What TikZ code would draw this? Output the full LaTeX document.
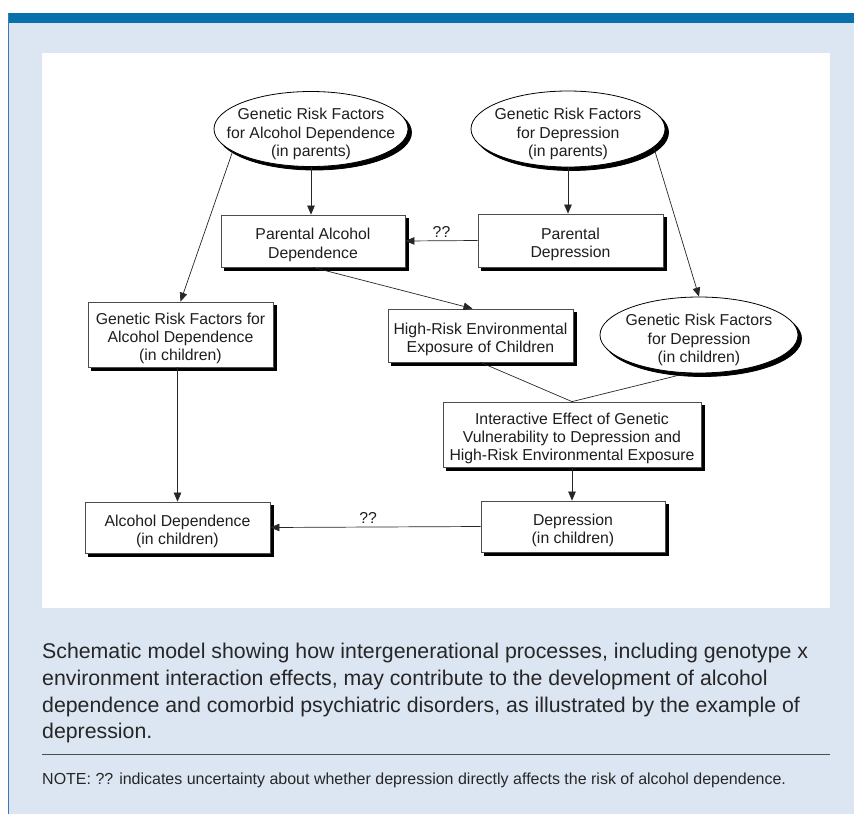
\documentclass[tikz,border=0pt]{standalone}
\usepackage{fontspec}
\setmainfont{Liberation Sans}
\usetikzlibrary{shapes.geometric,arrows.meta}
\definecolor{barblue}{RGB}{10,112,170}
\definecolor{bgblue}{RGB}{220,230,242}
\definecolor{edgeblue}{RGB}{60,120,180}
\definecolor{ink}{RGB}{30,30,30}
\begin{document}
\begin{tikzpicture}[x=1pt,y=-1pt,
  dfont/.style={font=\fontsize{15.8}{18.3}\selectfont},
  txt/.style={dfont,align=center,text=ink,inner sep=0pt,yshift=-4pt},
  etxt/.style={txt,yshift=-1pt},
  dropsh/.style={preaction={fill=black,draw=black,line width=0.8pt,
      transform canvas={xshift=3.5pt,yshift=-3.5pt}}},
  boxnode/.style={draw=black!70,line width=0.8pt,fill=white,dropsh,rectangle,inner sep=0pt},
  ellnode/.style={draw=black,line width=0.8pt,fill=white,dropsh,ellipse,inner sep=0pt},
  conn/.style={draw=black!85,line width=0.7pt},
  arr/.style={conn,-{Triangle[length=9pt,width=7.5pt]}},
]
\useasboundingbox (0,0) rectangle (854,814);
% background
\fill[white] (0,0) rectangle (854,814);
\fill[bgblue] (8.5,22) rectangle (854,814);
\fill[barblue] (8.5,13) rectangle (854,22.5);
\draw[edgeblue,line width=1pt] (8.5,13) -- (8.5,814);
\fill[white] (42,52.5) rectangle (829.5,608);

% nodes
\node[ellnode,minimum width=194pt,minimum height=75pt,
  label={[etxt]center:{Genetic Risk Factors\\for Alcohol Dependence\\(in parents)}}] (e1) at (311,129) {};
\node[ellnode,minimum width=194pt,minimum height=76pt,
  label={[etxt]center:{Genetic Risk Factors\\for Depression\\(in parents)}}] (e2) at (568,129) {};
\node[boxnode,minimum width=184pt,minimum height=52pt,
  label={[txt]center:{Parental Alcohol\\Dependence}}] (b3) at (313,241) {};
\node[boxnode,minimum width=185pt,minimum height=53pt,
  label={[txt]center:{Parental\\Depression}}] (b4) at (570.5,240.5) {};
\node[boxnode,minimum width=185pt,minimum height=65pt,
  label={[txt]center:{Genetic Risk Factors for\\Alcohol Dependence\\(in children)}}] (b5) at (180.5,334.5) {};
\node[boxnode,minimum width=185pt,minimum height=53pt,
  label={[txt]center:{High-Risk Environmental\\Exposure of Children}}] (b6) at (480.5,335.5) {};
\node[ellnode,minimum width=198pt,minimum height=76pt,
  label={[etxt]center:{Genetic Risk Factors\\for Depression\\(in children)}}] (e3) at (699,335) {};
\node[boxnode,minimum width=258pt,minimum height=65pt,
  label={[txt]center:{Interactive Effect of Genetic\\Vulnerability to Depression and\\High-Risk Environmental Exposure}}] (b8) at (572,434.5) {};
\node[boxnode,minimum width=185pt,minimum height=51pt,
  label={[txt]center:{Alcohol Dependence\\(in children)}}] (b9) at (177.5,527.5) {};
\node[boxnode,minimum width=184pt,minimum height=51pt,
  label={[txt]center:{Depression\\(in children)}}] (b10) at (573,526.5) {};

% connectors
\draw[arr] (e1.south) -- (e1.south |- b3.north);
\draw[arr] (e2.south) -- (e2.south |- b4.north);
\draw[arr] (b4.west) -- node[dfont,above,inner sep=3pt,text=ink]{??} (b3.east);
\draw[arr] (e1.196) -- (b5.north);
\draw[arr] (e2.-12) -- (e3.north);
\draw[arr] (b3.south) -- ([xshift=-8pt]b6.north);
\draw[conn] (b6.south) -- (b8.north);
\draw[conn] (e3.253) -- (b8.north);
\draw[arr] (b8.south) -- (b8.south |- b10.north);
\draw[arr] (b9.north |- b5.south) -- (b9.north);
\draw[arr] (b10.west) -- node[dfont,above,inner sep=3pt,pos=0.535,text=ink]{??} (b9.east);

% caption
\node[anchor=north west,inner sep=0pt,align=left,text=black!85,
  font=\fontsize{21.3}{26.7}\selectfont] (cap) at (42,643)
  {Schematic model showing how intergenerational processes, including genotype x\\
   environment interaction effects, may contribute to the development of alcohol\\
   dependence and comorbid psychiatric disorders, as illustrated by the example of\\
   depression.};
\draw[black!70,line width=1pt] (42,754) -- (829.5,754);
\node[anchor=base west,inner sep=0pt,text=black!85,font=\fontsize{16}{18}\selectfont] (note) at (42,784)
  {NOTE: ?? indicates uncertainty about whether depression directly affects the risk of alcohol dependence.};
\end{tikzpicture}
\end{document}
